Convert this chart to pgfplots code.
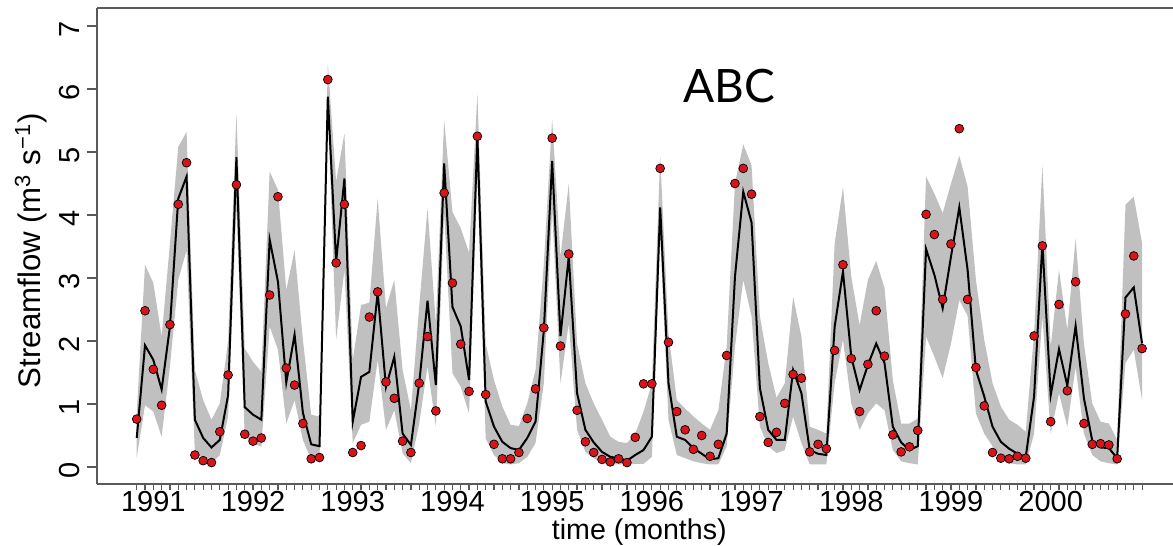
\documentclass[border=0pt]{standalone}
\usepackage{fontspec}
\setmainfont{Liberation Sans}
\newfontfamily\abcfont{Lato}
\usepackage{pgfplots}
\usepackage{pgfplotstable}
\pgfplotsset{compat=1.18}
\usepgfplotslibrary{fillbetween}
\definecolor{band}{RGB}{192,192,192}
\definecolor{dotred}{RGB}{215,20,25}
\definecolor{axgray}{RGB}{90,90,90}
\pgfplotstableread{
i obs med lo hi
0 0.76 0.46 0.15 0.85
1 2.48 1.93 0.98 3.21
2 1.55 1.70 0.88 2.92
3 0.98 1.23 0.48 2.07
4 2.26 2.23 1.60 3.55
5 4.17 4.26 2.97 5.08
6 4.83 4.61 3.44 5.32
7 0.19 0.75 0.22 1.54
8 0.10 0.46 0.14 1.06
9 0.07 0.31 0.06 0.75
10 0.56 0.43 0.19 1.01
11 1.46 1.14 0.80 2.00
12 4.48 4.92 4.13 5.61
13 0.52 0.95 0.48 1.88
14 0.41 0.83 0.38 1.67
15 0.46 0.75 0.32 1.51
16 2.73 3.61 2.23 4.69
17 4.29 2.94 1.86 4.40
18 1.57 1.34 0.69 2.81
19 1.30 2.10 1.06 3.44
20 0.69 0.86 0.43 2.02
21 0.13 0.36 0.11 0.83
22 0.15 0.33 0.11 0.80
23 6.15 5.88 5.72 6.41
24 3.24 3.26 2.02 4.53
25 4.17 4.58 3.13 5.30
26 0.23 0.72 0.38 1.70
27 0.34 1.43 0.67 2.57
28 2.38 1.51 0.72 2.61
29 2.78 2.77 1.70 4.26
30 1.35 1.27 0.59 2.52
31 1.09 1.75 0.90 2.97
32 0.41 0.53 0.22 1.54
33 0.23 0.35 0.06 0.90
34 1.33 1.33 0.69 2.55
35 2.07 2.64 1.60 4.11
36 0.89 1.30 0.64 2.28
37 4.35 4.82 4.03 5.51
38 2.92 2.54 1.49 4.05
39 1.95 2.23 1.27 3.79
40 1.20 1.38 0.85 3.40
41 5.25 5.25 4.61 5.93
42 1.15 1.04 0.45 1.96
43 0.36 0.64 0.19 1.38
44 0.13 0.40 0.06 0.96
45 0.13 0.30 0.04 0.67
46 0.23 0.27 0.06 0.65
47 0.77 0.46 0.16 1.01
48 1.24 0.72 0.38 1.54
49 2.21 2.17 1.33 3.23
50 5.22 4.86 4.08 5.53
51 1.92 2.08 1.33 3.34
52 3.38 3.34 2.28 4.50
53 0.90 1.17 0.59 1.96
54 0.40 0.59 0.24 1.33
55 0.23 0.39 0.14 1.01
56 0.12 0.24 0.06 0.75
57 0.08 0.16 0.04 0.48
58 0.13 0.14 0.04 0.40
59 0.07 0.10 0.04 0.38
60 0.47 0.19 0.05 0.53
61 1.32 0.27 0.05 0.88
62 1.32 0.48 0.16 1.33
63 4.74 4.12 3.66 4.93
64 1.98 1.33 0.75 2.12
65 0.88 0.48 0.19 1.06
66 0.59 0.43 0.14 0.93
67 0.28 0.30 0.09 0.80
68 0.50 0.21 0.06 0.69
69 0.17 0.12 0.04 0.59
70 0.36 0.14 0.04 0.90
71 1.77 0.53 0.33 1.91
72 4.50 3.02 1.91 4.50
73 4.74 4.37 2.97 5.12
74 4.33 3.88 2.39 4.79
75 0.80 1.25 0.64 2.39
76 0.39 0.59 0.33 1.65
77 0.55 0.43 0.22 1.10
78 1.01 0.43 0.27 1.33
79 1.47 1.54 0.80 2.70
80 1.41 1.17 0.38 2.07
81 0.24 0.27 0.04 0.64
82 0.36 0.21 0.04 0.59
83 0.29 0.19 0.04 0.53
84 1.85 2.23 1.33 3.55
85 3.21 3.10 2.02 4.44
86 1.72 1.75 1.01 3.02
87 0.88 1.22 0.59 2.25
88 1.63 1.62 0.85 2.97
89 2.48 1.96 1.01 3.27
90 1.76 1.65 0.90 2.84
91 0.51 0.64 0.27 1.38
92 0.24 0.39 0.09 0.69
93 0.32 0.27 0.06 0.69
94 0.58 0.33 0.04 0.77
95 4.01 3.46 2.07 4.61
96 3.69 3.05 1.75 4.34
97 2.66 2.52 1.41 4.03
98 3.54 3.34 1.96 4.50
99 5.37 4.12 2.65 4.94
100 2.66 3.13 2.40 4.45
101 1.58 1.54 0.85 2.97
102 0.97 1.12 0.53 2.02
103 0.23 0.64 0.33 1.33
104 0.14 0.40 0.14 0.96
105 0.13 0.29 0.06 0.75
106 0.17 0.21 0.04 0.67
107 0.14 0.16 0.04 0.56
108 2.08 1.12 0.53 2.12
109 3.51 3.55 2.39 4.79
110 0.72 1.14 0.53 1.91
111 2.58 1.87 1.17 3.13
112 1.21 1.29 0.64 2.18
113 2.94 2.24 1.59 3.63
114 0.69 1.09 0.53 1.96
115 0.36 0.42 0.19 1.01
116 0.37 0.31 0.09 0.72
117 0.35 0.30 0.06 0.69
118 0.13 0.14 0.04 0.43
119 2.43 2.69 1.65 4.16
120 3.35 2.85 1.86 4.29
121 1.88 1.96 1.06 3.55
}\data
\begin{document}
\begin{tikzpicture}
\begin{axis}[
  at={(0pt,0pt)}, anchor=south west,
  scale only axis, width=538pt, height=238pt,
  xmin=-4.78, xmax=124.72, ymin=-0.27, ymax=7.286,
  axis x line*=box, axis y line*=left,
  xtick pos=left, ytick pos=left,
  tick align=outside,
  xtick={2,14,26,38,50,62,74,86,98,110},
  xticklabels={1991,1992,1993,1994,1995,1996,1997,1998,1999,2000},
  major x tick style={draw=none},
  minor xtick={0,...,121},
  minor tick length=2.8pt,
  major tick length=5pt,
  ytick={0,1,2,3,4,5,6,7},
  axis line style={axgray, line width=0.6pt},
  tick style={axgray, line width=0.6pt},
  tick label style={font=\fontsize{14.5}{16}\selectfont},
  /pgf/number format/assume math mode=true,
  xticklabel style={yshift=5pt},
  yticklabel style={rotate=90, anchor=south, xshift=-1.5pt},
  xlabel={time (months)},
  ylabel={Streamflow (m\textsuperscript{3} s\textsuperscript{−1})},
  xlabel style={font=\fontsize{14.3}{17}\selectfont, at={(axis description cs:0.504,-0.1176)}, anchor=base},
  ylabel style={font=\fontsize{15.6}{18}\selectfont, at={(axis description cs:-0.0525,0.49)}, anchor=base},
]
\addplot[name path=hi, draw=none, forget plot] table[x=i,y=hi]{\data};
\addplot[name path=lo, draw=none, forget plot] table[x=i,y=lo]{\data};
\addplot[band, draw=none] fill between[of=hi and lo];
\addplot[black, line width=1pt, no marks] table[x=i,y=med]{\data};
\addplot[only marks, mark=*, mark size=2.2pt, mark options={fill=dotred, draw=black, line width=0.35pt}] table[x=i,y=obs]{\data};
\node[font=\abcfont\fontsize{23}{28}\selectfont] at (axis cs:71.3,6.04) {ABC};
\end{axis}
\pgfresetboundingbox
\path[use as bounding box] (-48.5pt,-31pt) rectangle (538pt,242pt);
\end{tikzpicture}
\end{document}
